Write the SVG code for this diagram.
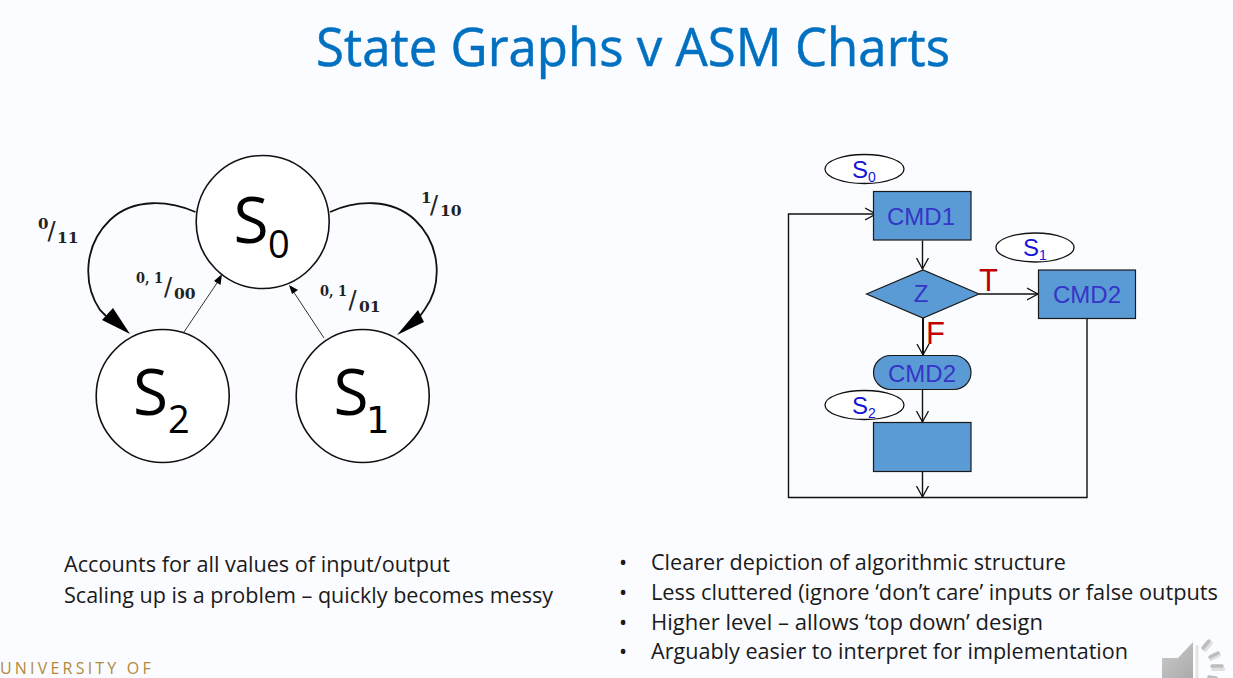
<svg xmlns="http://www.w3.org/2000/svg" width="1233" height="678" viewBox="0 0 1233 678">
<style>
.st{fill:#fff;stroke:#111;stroke-width:1.6}
.big{font-family:"Open Sans",sans-serif;fill:#000}
.lab{font-family:"DejaVu Serif","Liberation Serif",serif;font-weight:bold;fill:#222}
.sl{font-family:"DejaVu Sans",sans-serif;fill:#222}
.box{fill:#5B9BD5;stroke:#1a1a1a;stroke-width:1.2}
.cmd{font-family:"Liberation Sans",Arial,sans-serif;font-size:24px;fill:#3535C8;text-anchor:middle}
.ov{fill:#fff;stroke:#111;stroke-width:1.3}
.sn{font-family:"Liberation Sans",Arial,sans-serif;fill:#1414D8}
.tf{font-family:"Liberation Sans",Arial,sans-serif;font-size:31px;fill:#C00000}
.w{fill:none;stroke:#111;stroke-width:1.4}
.body{font-family:"Open Sans",sans-serif;font-size:21.6px;fill:#1a1a1a}
</style>
<defs>
<marker id="ah" markerUnits="userSpaceOnUse" markerWidth="14" markerHeight="14" refX="11" refY="7" orient="auto"><path d="M0 1 L11 7 L0 13" fill="none" stroke="#111" stroke-width="1.3"/></marker>
<linearGradient id="spk" x1="0" y1="0" x2="1" y2="1"><stop offset="0" stop-color="#ccc"/><stop offset="1" stop-color="#aaa"/></linearGradient>
</defs>
<rect width="1233" height="678" fill="#FBFCFF"/>
<text x="316" y="66" font-family="Open Sans,sans-serif" font-size="53px" fill="#0070C0" stroke="#0070C0" stroke-width="0.5" textLength="634" lengthAdjust="spacingAndGlyphs">State Graphs v ASM Charts</text>

<g id="connectors-left">
<path d="M195.500 212 C170 201 134 197 110 220 C83 246 83 285 100 310 L106 316" fill="none" stroke="#111" stroke-width="1.8"/>
<polygon points="130,334 102,320 113,308" fill="#000"/>
<path d="M330 212 C356 200 392 198 415 220 C442 246 442 285 425 309 L420 316" fill="none" stroke="#111" stroke-width="1.8"/>
<polygon points="397,335 418,310 424,322" fill="#000"/>
<path d="M184 332 L219 280" fill="none" stroke="#333" stroke-width="1"/>
<polygon points="222,274 214,281 220.500,285" fill="#000"/>
<path d="M324 338 L293 291" fill="none" stroke="#333" stroke-width="1"/>
<polygon points="289,285 298,290 292,294" fill="#000"/>
</g>
<g id="S0"><circle class="st" cx="262.700" cy="222" r="66.500"/><text class="big" x="233.500" y="243" font-size="64px">S</text><text class="big" x="268" y="258" font-size="38px">0</text></g>
<g id="S2"><circle class="st" cx="162.700" cy="396" r="66.500"/><text class="big" x="133" y="415" font-size="64px">S</text><text class="big" x="168" y="432.500" font-size="38px">2</text></g>
<g id="S1"><circle class="st" cx="362.700" cy="396" r="66.500"/><text class="big" x="333.500" y="415" font-size="64px">S</text><text class="big" x="366" y="432.500" font-size="37px" style="font-family:'DejaVu Sans',sans-serif">1</text></g>

<g id="label-s0-s2"><text class="lab" x="38" y="229" font-size="15px">0</text><text class="sl" x="47.500" y="239" font-size="24px">/</text><text class="lab" x="57" y="243" font-size="15.500px">11</text></g>
<g id="label-s0-s1"><text class="lab" x="421" y="203" font-size="15px">1</text><text class="sl" x="430" y="213" font-size="24px">/</text><text class="lab" x="440" y="216" font-size="15.500px">10</text></g>
<g id="label-s2-s0"><text class="lab" x="136" y="283" font-size="15px" textLength="27" lengthAdjust="spacingAndGlyphs">0, 1</text><text class="sl" x="164" y="295" font-size="24px">/</text><text class="lab" x="174" y="299" font-size="15.500px">00</text></g>
<g id="label-s1-s0"><text class="lab" x="320" y="296" font-size="15px" textLength="27" lengthAdjust="spacingAndGlyphs">0, 1</text><text class="sl" x="348.500" y="308" font-size="24px">/</text><text class="lab" x="359" y="312" font-size="15.500px">01</text></g>

<g id="connectors-right">
<path class="w" d="M922.500 240.500 V269" marker-end="url(#ah)"/>
<path class="w" d="M979 294 H1038" marker-end="url(#ah)"/>
<path class="w" style="stroke-width:2" d="M923 318 V355" marker-end="url(#ah)"/>
<path class="w" d="M922.500 389.500 V422" marker-end="url(#ah)"/>
<path class="w" d="M922.500 471.500 V497" marker-end="url(#ah)"/>
<path class="w" d="M1087 318.500 V497.500 H788.500 V214 H876" marker-end="url(#ah)"/>
</g>
<g id="oval-s0"><ellipse class="ov" cx="864.500" cy="169" rx="39.500" ry="14.500"/><text class="sn" x="852" y="178" font-size="24px">S<tspan font-size="14px" dy="4">0</tspan></text></g>
<g id="cmd1"><rect class="box" x="873.500" y="191.500" width="97.500" height="48.500"/><text class="cmd" x="921" y="225">CMD1</text></g>
<g id="oval-s1"><ellipse class="ov" cx="1035" cy="247.500" rx="39" ry="14.500"/><text class="sn" x="1023" y="256" font-size="24px">S<tspan font-size="14px" dy="4">1</tspan></text></g>
<g id="z"><polygon class="box" points="866.500,294 923,270 979,294 923,318"/><text class="cmd" x="921" y="302">Z</text></g>
<g id="cmd2-right"><rect class="box" x="1038.500" y="270" width="97" height="48.500"/><text class="cmd" x="1087" y="303">CMD2</text></g>
<g id="cmd2-cond"><rect class="box" x="873.500" y="355.500" width="97.500" height="34" rx="17" ry="17"/><text class="cmd" x="922" y="382">CMD2</text></g>
<g id="oval-s2"><ellipse class="ov" cx="864.500" cy="405" rx="39.500" ry="14.500"/><text class="sn" x="852" y="414" font-size="24px">S<tspan font-size="14px" dy="4">2</tspan></text></g>
<g id="s2-box"><rect class="box" x="873.500" y="422.500" width="97.500" height="49"/></g>
<text class="tf" x="979" y="291">T</text>
<text class="tf" x="926" y="344">F</text>

<g id="left-notes"><text class="body" x="64" y="572" textLength="386" lengthAdjust="spacingAndGlyphs">Accounts for all values of input/output</text><text class="body" x="64" y="603" textLength="489" lengthAdjust="spacingAndGlyphs">Scaling up is a problem – quickly becomes messy</text></g>
<g id="right-notes">
<text class="body" x="619" y="570">•</text><text class="body" x="651" y="570" textLength="415" lengthAdjust="spacingAndGlyphs">Clearer depiction of algorithmic structure</text>
<text class="body" x="619" y="600">•</text><text class="body" x="651" y="600" textLength="567" lengthAdjust="spacingAndGlyphs">Less cluttered (ignore ‘don’t care’ inputs or false outputs</text>
<text class="body" x="619" y="630">•</text><text class="body" x="651" y="630" textLength="392" lengthAdjust="spacingAndGlyphs">Higher level – allows ‘top down’ design</text>
<text class="body" x="619" y="659">•</text><text class="body" x="651" y="659" textLength="477" lengthAdjust="spacingAndGlyphs">Arguably easier to interpret for implementation</text>
</g>
<text x="0" y="674" font-family="Open Sans,sans-serif" font-size="16px" fill="#B08A3E" letter-spacing="3.200">UNIVERSITY OF</text>
<g id="speaker">
<polygon points="1162,658 1178,658 1193,642 1193,678 1162,678" fill="url(#spk)"/>
<path d="M1197 645 V678" stroke="#e4e4e4" stroke-width="3"/>
<g stroke="#e0e0e0" stroke-width="4" stroke-linecap="round"><path d="M1205 650 L1211 643"/><path d="M1211 659 L1219 655"/><path d="M1213 669 L1223 669"/></g>
<g stroke="#bdbdbd" stroke-width="3.500" stroke-linecap="round"><path d="M1203 648 L1209 641"/><path d="M1210 657 L1218 653"/><path d="M1212 666 L1222 666"/><path d="M1209 677 L1216 678"/></g>
</g>
</svg>
